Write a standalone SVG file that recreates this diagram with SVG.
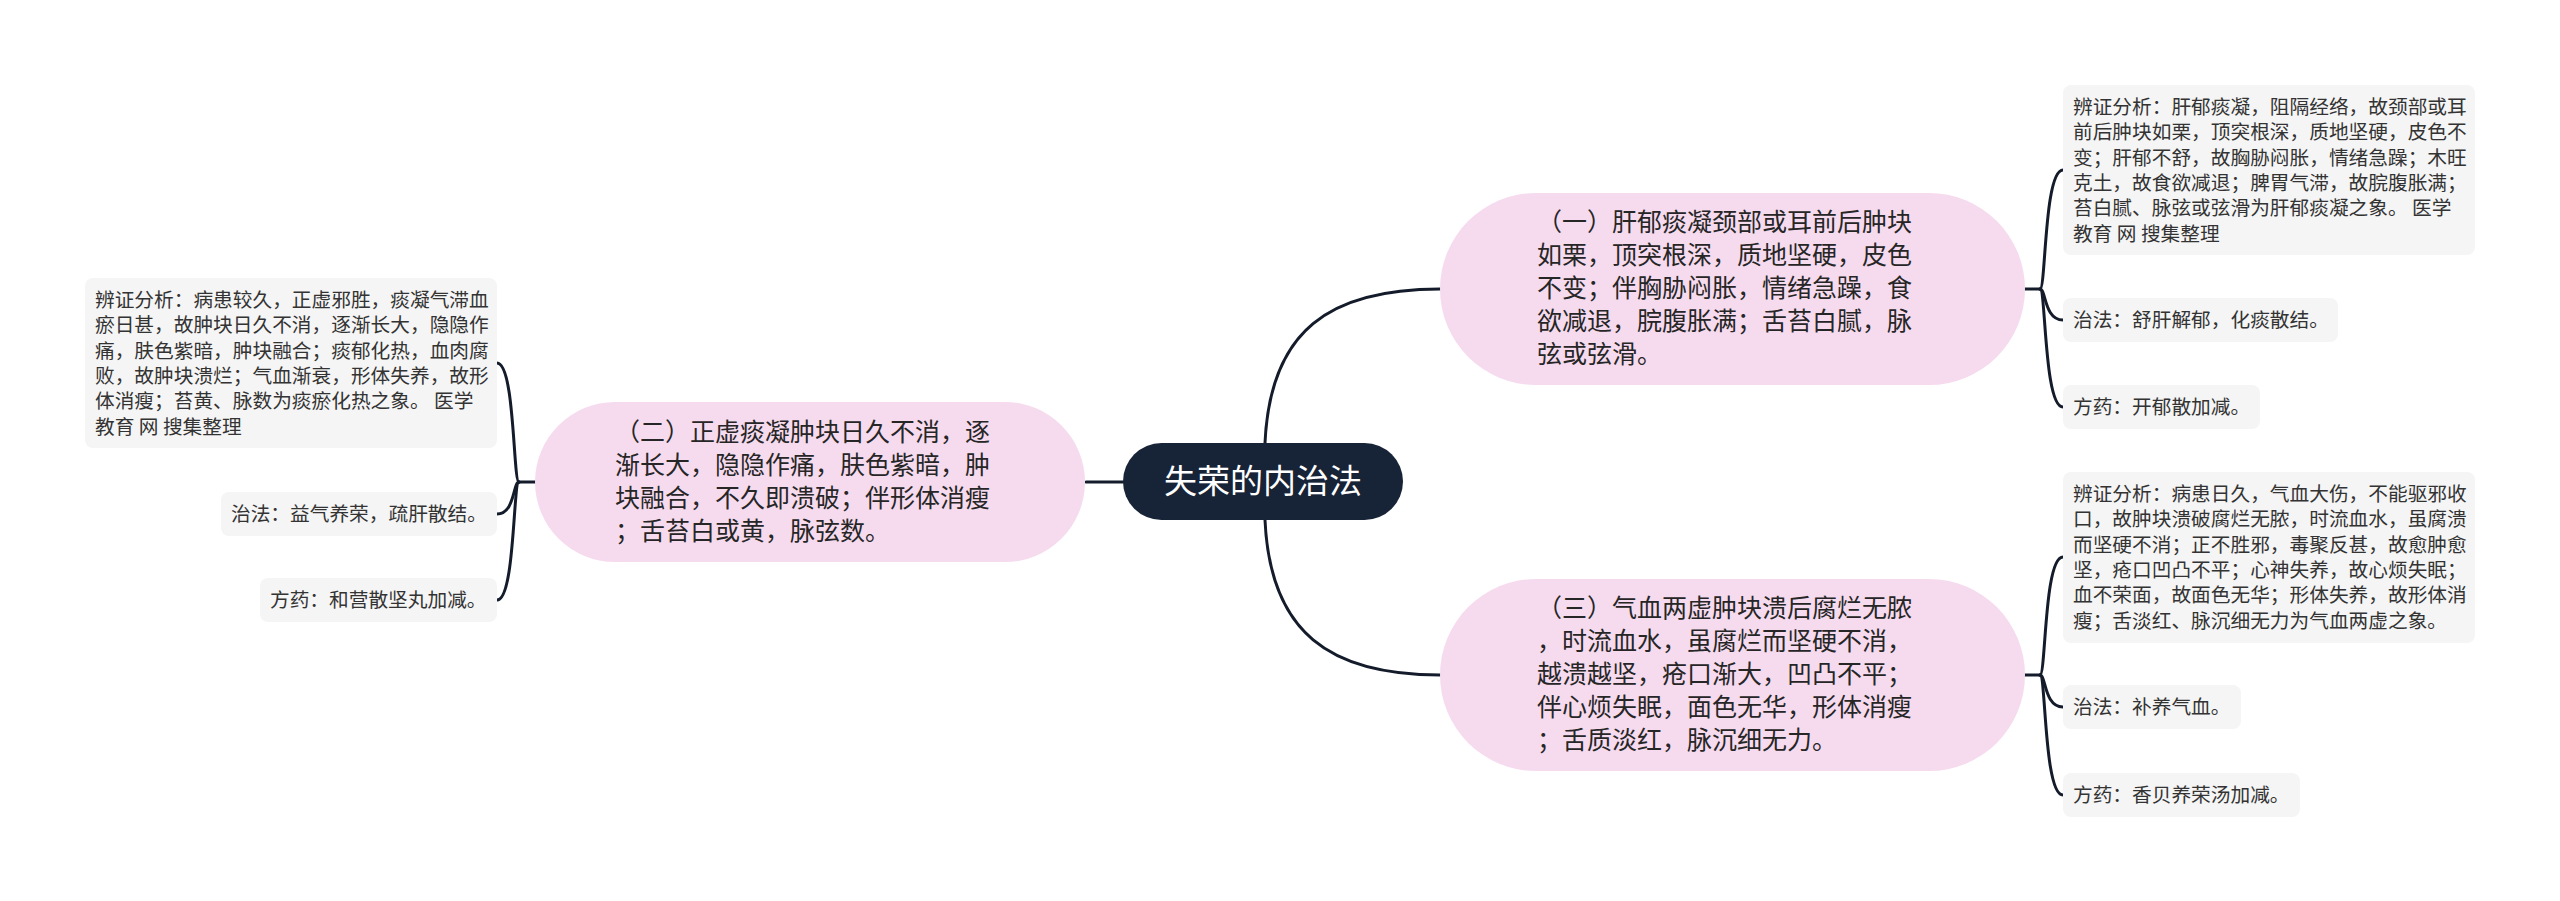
<svg xmlns="http://www.w3.org/2000/svg" width="2560" height="901" viewBox="0 0 2560 901">
<style>
.bg{fill:#ffffff}
.conn path{fill:none;stroke:#141c2b;stroke-width:3;stroke-linecap:round}
.root rect{fill:#172336}
.root text{fill:#ffffff;font-family:"Noto Sans CJK SC","Noto Sans",sans-serif;font-size:33px}
.mid rect{fill:#f6dbef}
.mid text{fill:#262626;font-family:"Noto Sans CJK SC","Noto Sans",sans-serif;font-size:25px}
.leaf rect{fill:#f5f5f5}
.leaf text{fill:#333333;font-family:"Noto Sans CJK SC","Noto Sans",sans-serif;font-size:19.7px}
</style>
<rect class="bg" x="0" y="0" width="2560" height="901"/>
<g id="connectors" class="conn">
<path d="M1123 482 H1086"/>
<path d="M1265 443 C1270 330 1330 289 1440 289"/>
<path d="M1265 520 C1270 633 1330 675 1440 675"/>
<path d="M2025 289 H2040"/>
<path d="M2040 289 C2046 289 2044 170 2063 170"/>
<path d="M2040 289 C2046 289 2044 320 2063 320"/>
<path d="M2040 289 C2046 289 2044 407 2063 407"/>
<path d="M2025 675 H2040"/>
<path d="M2040 675 C2046 675 2044 557 2063 557"/>
<path d="M2040 675 C2046 675 2044 707 2063 707"/>
<path d="M2040 675 C2046 675 2044 795 2063 795"/>
<path d="M535 482 H519"/>
<path d="M519 482 C513 482 515 363 497 363"/>
<path d="M519 482 C513 482 515 514 497 514"/>
<path d="M519 482 C513 482 515 600 497 600"/>
</g>
<g id="root" class="root">
<rect x="1123" y="443" width="280" height="77" rx="38.5"/>
<text x="1263" y="493" text-anchor="middle">失荣的内治法</text>
</g>
<g id="node1" class="mid">
<rect x="1440" y="193" width="585" height="192" rx="96"/>
<text x="1537" y="231">
<tspan x="1537" y="231">（一）肝郁痰凝颈部或耳前后肿块</tspan>
<tspan x="1537" y="264">如栗，顶突根深，质地坚硬，皮色</tspan>
<tspan x="1537" y="297">不变；伴胸胁闷胀，情绪急躁，食</tspan>
<tspan x="1537" y="330">欲减退，脘腹胀满；舌苔白腻，脉</tspan>
<tspan x="1537" y="363">弦或弦滑。</tspan>
</text>
</g>
<g id="node2" class="mid">
<rect x="535" y="402" width="550" height="160" rx="80"/>
<text x="615" y="441">
<tspan x="615" y="441">（二）正虚痰凝肿块日久不消，逐</tspan>
<tspan x="615" y="474">渐长大，隐隐作痛，肤色紫暗，肿</tspan>
<tspan x="615" y="507">块融合，不久即溃破；伴形体消瘦</tspan>
<tspan x="615" y="540">；舌苔白或黄，脉弦数。</tspan>
</text>
</g>
<g id="node3" class="mid">
<rect x="1440" y="579" width="585" height="192" rx="96"/>
<text x="1537" y="617">
<tspan x="1537" y="617">（三）气血两虚肿块溃后腐烂无脓</tspan>
<tspan x="1537" y="650">，时流血水，虽腐烂而坚硬不消，</tspan>
<tspan x="1537" y="683">越溃越坚，疮口渐大，凹凸不平；</tspan>
<tspan x="1537" y="716">伴心烦失眠，面色无华，形体消瘦</tspan>
<tspan x="1537" y="749">；舌质淡红，脉沉细无力。</tspan>
</text>
</g>
<g id="leaf1a" class="leaf">
<rect x="2063" y="85" width="412" height="170" rx="8"/>
<text>
<tspan x="2073" y="114">辨证分析：肝郁痰凝，阻隔经络，故颈部或耳</tspan>
<tspan x="2073" y="139.3">前后肿块如栗，顶突根深，质地坚硬，皮色不</tspan>
<tspan x="2073" y="164.6">变；肝郁不舒，故胸胁闷胀，情绪急躁；木旺</tspan>
<tspan x="2073" y="189.9">克土，故食欲减退；脾胃气滞，故脘腹胀满；</tspan>
<tspan x="2073" y="215.2">苔白腻、脉弦或弦滑为肝郁痰凝之象。 医学</tspan>
<tspan x="2073" y="240.5">教育 网 搜集整理</tspan>
</text>
</g>
<g id="leaf1b" class="leaf">
<rect x="2063" y="298" width="275" height="44" rx="8"/>
<text x="2073" y="327">治法：舒肝解郁，化痰散结。</text>
</g>
<g id="leaf1c" class="leaf">
<rect x="2063" y="385" width="197" height="44" rx="8"/>
<text x="2073" y="414">方药：开郁散加减。</text>
</g>
<g id="leaf3a" class="leaf">
<rect x="2063" y="472" width="412" height="171" rx="8"/>
<text>
<tspan x="2073" y="501">辨证分析：病患日久，气血大伤，不能驱邪收</tspan>
<tspan x="2073" y="526.3">口，故肿块溃破腐烂无脓，时流血水，虽腐溃</tspan>
<tspan x="2073" y="551.6">而坚硬不消；正不胜邪，毒聚反甚，故愈肿愈</tspan>
<tspan x="2073" y="576.9">坚，疮口凹凸不平；心神失养，故心烦失眠；</tspan>
<tspan x="2073" y="602.2">血不荣面，故面色无华；形体失养，故形体消</tspan>
<tspan x="2073" y="627.5">瘦；舌淡红、脉沉细无力为气血两虚之象。</tspan>
</text>
</g>
<g id="leaf3b" class="leaf">
<rect x="2063" y="685" width="178" height="44" rx="8"/>
<text x="2073" y="714">治法：补养气血。</text>
</g>
<g id="leaf3c" class="leaf">
<rect x="2063" y="773" width="237" height="44" rx="8"/>
<text x="2073" y="802">方药：香贝养荣汤加减。</text>
</g>
<g id="leaf2a" class="leaf">
<rect x="85" y="278" width="412" height="170" rx="8"/>
<text>
<tspan x="95" y="307">辨证分析：病患较久，正虚邪胜，痰凝气滞血</tspan>
<tspan x="95" y="332.3">瘀日甚，故肿块日久不消，逐渐长大，隐隐作</tspan>
<tspan x="95" y="357.6">痛，肤色紫暗，肿块融合；痰郁化热，血肉腐</tspan>
<tspan x="95" y="382.9">败，故肿块溃烂；气血渐衰，形体失养，故形</tspan>
<tspan x="95" y="408.2">体消瘦；苔黄、脉数为痰瘀化热之象。 医学</tspan>
<tspan x="95" y="433.5">教育 网 搜集整理</tspan>
</text>
</g>
<g id="leaf2b" class="leaf">
<rect x="221" y="492" width="276" height="44" rx="8"/>
<text x="231" y="521">治法：益气养荣，疏肝散结。</text>
</g>
<g id="leaf2c" class="leaf">
<rect x="260" y="578" width="237" height="44" rx="8"/>
<text x="270" y="607">方药：和营散坚丸加减。</text>
</g>
</svg>
